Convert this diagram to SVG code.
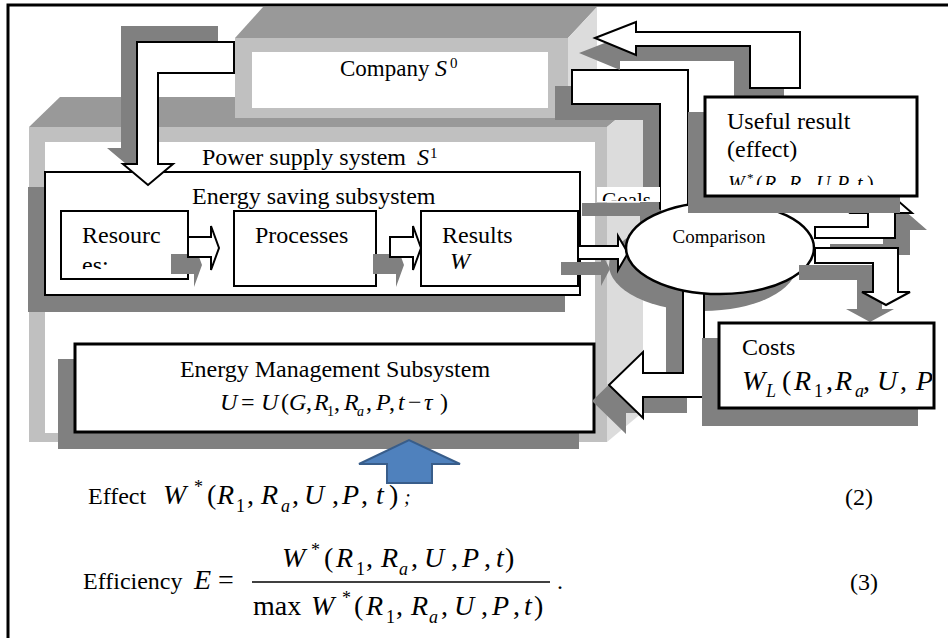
<svg xmlns="http://www.w3.org/2000/svg" width="948" height="638" viewBox="0 0 948 638" font-family="'Liberation Serif', 'Times New Roman', serif" font-size="24">
<style>
.t{font-family:'Liberation Serif','Times New Roman',serif;fill:#000}
.i{font-style:italic}
.sh{fill:#808080}
.top{fill:#999999}
.front{fill:#c0c0c0}
.side{fill:#dcdcdc}
.box{fill:#fff;stroke:#000;stroke-width:2}
.box3{fill:#fff;stroke:#000;stroke-width:3}
.arr{fill:#fff;stroke:#000;stroke-width:2;stroke-linejoin:miter}
</style>
<defs>
<clipPath id="cRes"><rect x="62" y="212" width="125" height="57"/></clipPath>
<clipPath id="cUse"><rect x="707" y="99" width="208" height="86"/></clipPath>
<clipPath id="cCost"><rect x="721" y="325" width="211" height="72"/></clipPath>
<clipPath id="cGoal"><rect x="597" y="187" width="63" height="14"/></clipPath>
</defs>
<rect width="948" height="638" fill="#fff"/>
<path d="M8,640 V5 H950" fill="none" stroke="#000" stroke-width="3"/>

<g id="power-supply-system">
<polygon class="top" points="29,127 60,97 643,97 607,127"/>
<rect class="front" x="29" y="127" width="578" height="315"/>
<rect fill="#fff" x="45" y="142" width="550" height="291"/>
<polygon class="side" points="607,127 643,97 643,412 607,442"/>
<text class="t" x="202" y="165">Power supply system<tspan class="i" x="417">S</tspan><tspan x="430" y="158" font-size="15">1</tspan></text>
</g>

<g id="company">
<polygon class="top" points="235,38 263,7 597,7 568,38"/>
<polygon class="side" points="568,38 597,7 597,95 568,118"/>
<rect class="front" x="235" y="38" width="333" height="80"/>
<rect fill="#fff" x="252" y="52" width="296" height="56"/>
<text class="t" x="340" y="76" font-size="23">Company<tspan class="i" x="435" font-size="24">S</tspan><tspan x="450" y="68" font-size="15">0</tspan></text>
</g>

<g id="energy-saving-subsystem">
<rect class="sh" x="28" y="187" width="537" height="125"/>
<rect class="box" x="45" y="172" width="535" height="123" stroke-width="2.5"/>
<text class="t" x="192" y="204">Energy saving subsystem</text>
</g>

<g id="resources">
<rect class="box" x="61" y="211" width="127" height="68"/>
<g clip-path="url(#cRes)">
<text class="t" x="82" y="243">Resourc</text>
<text class="t" x="82" y="273">es:</text>
</g>
</g>

<g id="processes">
<rect class="box" x="234" y="211" width="142" height="75"/>
<text class="t" x="255" y="243">Processes</text>
</g>

<g id="results">
<rect class="box" x="421" y="211" width="157" height="75"/>
<text class="t" x="442" y="243">Results</text>
<text class="t i" x="450" y="269">W</text>
</g>

<g id="energy-management-subsystem">
<rect class="sh" x="58" y="359" width="521" height="90"/>
<rect class="box3" x="75" y="344" width="519" height="88"/>
<text class="t" x="335" y="377" text-anchor="middle">Energy Management Subsystem</text>
<text class="t" y="410">
<tspan class="i" x="220" y="410">U</tspan><tspan x="241" y="410">=</tspan><tspan class="i" x="261" y="410">U</tspan><tspan x="281" y="410">(</tspan><tspan class="i" x="289" y="410">G</tspan><tspan x="306" y="410">,</tspan><tspan class="i" x="314" y="410">R</tspan><tspan x="327" y="416" font-size="14">1</tspan><tspan x="334" y="410">,</tspan><tspan class="i" x="344" y="410">R</tspan><tspan class="i" x="357" y="416" font-size="14">a</tspan><tspan x="366" y="410">,</tspan><tspan class="i" x="376" y="410">P</tspan><tspan x="389" y="410">,</tspan><tspan class="i" x="398" y="410">t</tspan><tspan x="408" y="410">−</tspan><tspan class="i" x="424" y="410">τ</tspan><tspan x="440" y="410">)</tspan>
</text>
</g>

<g id="comparison-shadow">
<ellipse class="sh" cx="703" cy="265" rx="94" ry="46"/>
</g>

<g id="connectors-under">
<polygon class="sh" points="555,86 671,86 671,236 643,236 643,120 555,120"/>
<polygon class="arr" points="572,70 688,70 688,220 660,220 660,104 572,104"/>
<polygon class="sh" points="561,262 601,262 601,252 610,269 601,286 601,275 561,275"/>
<polygon class="arr" points="578,246 618,246 618,236 628,253 618,270 618,259 578,259"/>
<polygon class="sh" points="582,203 640,203 640,197 662,211 640,226 640,216 582,216"/>
<rect fill="#fff" x="597" y="187" width="63" height="15"/>
<text class="t" x="602" y="207" font-size="21" clip-path="url(#cGoal)">Goals</text>
<polygon class="sh" points="666,296 687,296 687,413 626,413 626,434 592,401 626,368 626,389 666,389"/>
<polygon class="arr" points="683,280 704,280 704,397 643,397 643,418 609,385 643,352 643,373 683,373"/>
</g>

<g id="comparison">
<ellipse cx="720" cy="248" rx="94" ry="46" fill="#fff" stroke="#000" stroke-width="2.5"/>
<text class="t" x="719" y="243" font-size="19" text-anchor="middle">Comparison</text>
</g>

<g id="connectors">
<polygon class="sh" points="218,26 121,26 121,148 107,148 132,169 157,148 142,148 142,57 218,57"/>
<polygon class="arr" points="234,42 137,42 137,164 123,164 148,185 173,164 158,164 158,73 234,73"/>
<polygon class="sh" points="171,254 194,254 194,243 202,265 194,287 194,274 171,274"/>
<polygon class="arr" points="188,237 211,237 211,226 219,248 211,270 211,257 188,257"/>
<polygon class="sh" points="373,254 396,254 396,243 404,265 396,287 396,274 373,274"/>
<polygon class="arr" points="390,237 413,237 413,226 421,248 413,270 413,257 390,257"/>
<polygon class="sh" points="579,53 620,37 620,47 784,47 784,103 734,103 734,61 620,61 620,70"/>
<polygon class="arr" points="595,38 636,22 636,32 800,32 800,88 750,88 750,46 636,46 636,55"/>
<polygon class="sh" points="830,244 883,244 883,230 866,230 896,203 927,230 910,230 910,255 830,255"/>
<polygon class="arr" points="815,227 868,227 868,213 851,213 881,186 912,213 895,213 895,238 815,238"/>
<polygon class="sh" points="799,265 882,265 882,309 894,309 870,322 846,309 857,309 857,280 799,280"/>
<polygon class="arr" points="815,248 898,248 898,292 910,292 886,305 862,292 873,292 873,263 815,263"/>
</g>

<g id="useful-result">
<rect class="sh" x="688" y="112" width="212" height="101"/>
<rect class="box3" x="705" y="97" width="212" height="99"/>
<g clip-path="url(#cUse)">
<text class="t" x="727" y="129">Useful result</text>
<text class="t" x="727" y="157">(effect)</text>
<text class="t" y="190" font-size="20">
<tspan class="i" x="728" y="190">W</tspan><tspan x="747" y="182" font-size="13">*</tspan><tspan x="756" y="190">(</tspan><tspan class="i" x="764" y="190">R</tspan><tspan x="777" y="195" font-size="13">1</tspan><tspan x="783" y="190">,</tspan><tspan class="i" x="789" y="190">R</tspan><tspan class="i" x="802" y="195" font-size="13">a</tspan><tspan x="808" y="190">,</tspan><tspan class="i" x="816" y="190">U</tspan><tspan x="831" y="190">,</tspan><tspan class="i" x="837" y="190">P</tspan><tspan x="850" y="190">,</tspan><tspan class="i" x="857" y="190">t</tspan><tspan x="867" y="190">)</tspan>
</text>
</g>
</g>

<g id="costs">
<rect class="sh" x="702" y="338" width="216" height="88"/>
<rect class="box3" x="719" y="323" width="215" height="85"/>
<g clip-path="url(#cCost)">
<text class="t" x="742" y="355">Costs</text>
<text class="t" y="390" font-size="28">
<tspan class="i" x="742" y="390">W</tspan><tspan class="i" x="766" y="397" font-size="18">L</tspan><tspan x="782" y="390">(</tspan><tspan class="i" x="794" y="390">R</tspan><tspan x="814" y="397" font-size="18">1</tspan><tspan x="826" y="390">,</tspan><tspan class="i" x="835" y="390">R</tspan><tspan class="i" x="855" y="397" font-size="18">a</tspan><tspan x="863" y="390">,</tspan><tspan class="i" x="877" y="390">U</tspan><tspan x="900" y="390">,</tspan><tspan class="i" x="916" y="390">P</tspan>
</text>
</g>
</g>

<g id="control-input">
<polygon points="387,483 387,464 359,464 409,440 460,464 432,464 432,483" fill="#4f81bd" stroke="#385d8a" stroke-width="2"/>
</g>

<g id="formulas">
<text class="t" x="88" y="504">Effect</text>
<text class="t" y="504" font-size="28">
<tspan class="i" x="163" y="504">W</tspan><tspan x="194" y="493" font-size="18">*</tspan><tspan x="207" y="504">(</tspan><tspan class="i" x="217" y="504">R</tspan><tspan x="236" y="512" font-size="18">1</tspan><tspan x="247" y="504">,</tspan><tspan class="i" x="261" y="504">R</tspan><tspan class="i" x="281" y="512" font-size="18">a</tspan><tspan x="292" y="504">,</tspan><tspan class="i" x="304" y="504">U</tspan><tspan x="332" y="504">,</tspan><tspan class="i" x="342" y="504">P</tspan><tspan x="361" y="504">,</tspan><tspan class="i" x="376" y="504">t</tspan><tspan x="389" y="504">)</tspan><tspan class="i" x="404" y="504" font-size="20">;</tspan>
</text>
<text class="t" x="845" y="505">(2)</text>

<text class="t" x="83" y="589">Efficiency</text>
<text class="t i" x="194" y="589" font-size="28">E</text>
<text class="t" x="218" y="589" font-size="28">=</text>
<text class="t" y="567" font-size="28">
<tspan class="i" x="282" y="567">W</tspan><tspan x="311" y="556" font-size="18">*</tspan><tspan x="324" y="567">(</tspan><tspan class="i" x="336" y="567">R</tspan><tspan x="356" y="575" font-size="18">1</tspan><tspan x="366" y="567">,</tspan><tspan class="i" x="381" y="567">R</tspan><tspan class="i" x="399" y="575" font-size="18">a</tspan><tspan x="411" y="567">,</tspan><tspan class="i" x="424" y="567">U</tspan><tspan x="451" y="567">,</tspan><tspan class="i" x="462" y="567">P</tspan><tspan x="484" y="567">,</tspan><tspan class="i" x="496" y="567">t</tspan><tspan x="505" y="567">)</tspan>
</text>
<line x1="252" y1="582" x2="550" y2="582" stroke="#000" stroke-width="1.3"/>
<text class="t" y="615" font-size="28">
<tspan x="253" y="615">max</tspan><tspan class="i" x="311" y="615">W</tspan><tspan x="342" y="604" font-size="18">*</tspan><tspan x="354" y="615">(</tspan><tspan class="i" x="366" y="615">R</tspan><tspan x="386" y="623" font-size="18">1</tspan><tspan x="396" y="615">,</tspan><tspan class="i" x="411" y="615">R</tspan><tspan class="i" x="429" y="623" font-size="18">a</tspan><tspan x="441" y="615">,</tspan><tspan class="i" x="454" y="615">U</tspan><tspan x="481" y="615">,</tspan><tspan class="i" x="492" y="615">P</tspan><tspan x="513" y="615">,</tspan><tspan class="i" x="524" y="615">t</tspan><tspan x="534" y="615">)</tspan>
</text>
<text class="t" x="557" y="589">.</text>
<text class="t" x="850" y="590">(3)</text>
</g>
</svg>
